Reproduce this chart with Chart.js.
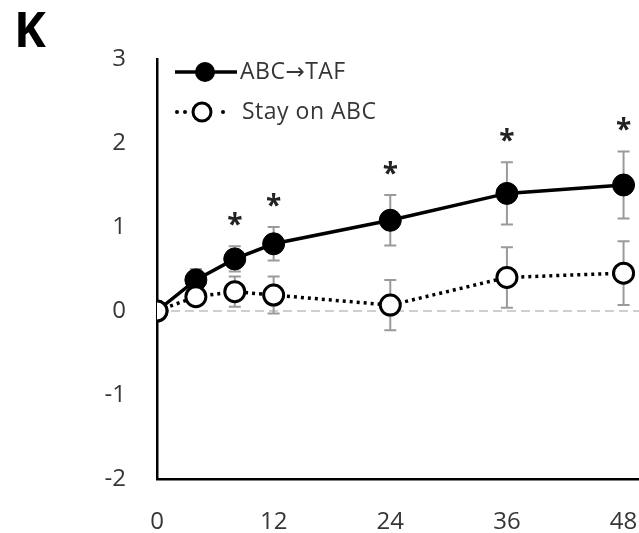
<!DOCTYPE html>
<html>
<head>
<meta charset="utf-8">
<script src="https://cdn.jsdelivr.net/npm/chart.js@4.4.0/dist/chart.umd.min.js"></script>
<style>
    html, body { margin: 0; padding: 0; background: #fff; overflow: hidden; }
    #chartCanvas { display: block; }
</style>
</head>
<body>
<!-- wider than the window so the x axis runs off the right edge -->
<canvas id="chartCanvas" width="680" height="533"></canvas>
<script>
// Change from baseline by week
const weeks = [0, 4, 8, 12, 24, 36, 48];
const switchMean = [0, 0.37, 0.62, 0.80, 1.08, 1.40, 1.50];
const switchErr = [0, 0.13, 0.15, 0.20, 0.30, 0.37, 0.40];
const stayMean = [0, 0.17, 0.23, 0.19, 0.07, 0.40, 0.45];
const stayErr = [0, 0.10, 0.18, 0.22, 0.30, 0.36, 0.38];
const significant = [false, false, true, true, true, true, true];
const xTicks = [0, 12, 24, 36, 48];
const yTicks = [-2, -1, 0, 1, 2, 3];
const seriesNames = ['ABC\u2192TAF', 'Stay on ABC'];

const FONT = '"Open Sans", "DejaVu Sans", sans-serif';
const TEXT = '#363636';

// zero reference line + error bars under the markers
const underlay = {
    id: 'underlay',
    beforeDatasetsDraw(chart) {
        const ctx = chart.ctx;
        const x = chart.scales.x, y = chart.scales.y;
        const area = chart.chartArea;

        ctx.save();
        ctx.strokeStyle = '#cfcfcf';
        ctx.lineWidth = 2;
        ctx.setLineDash([9, 5]);
        ctx.beginPath();
        ctx.moveTo(area.left, y.getPixelForValue(0));
        ctx.lineTo(area.right, y.getPixelForValue(0));
        ctx.stroke();
        ctx.setLineDash([]);

        ctx.strokeStyle = '#9a9a9a';
        ctx.lineWidth = 2;
        const bars = [[switchMean, switchErr], [stayMean, stayErr]];
        bars.forEach(([mean, err]) => {
            weeks.forEach((w, i) => {
                if (!err[i]) return;
                const px = x.getPixelForValue(w);
                const top = y.getPixelForValue(mean[i] + err[i]);
                const bot = y.getPixelForValue(mean[i] - err[i]);
                ctx.beginPath();
                ctx.moveTo(px, top); ctx.lineTo(px, bot);
                ctx.moveTo(px - 6, top); ctx.lineTo(px + 6, top);
                ctx.moveTo(px - 6, bot); ctx.lineTo(px + 6, bot);
                ctx.stroke();
            });
        });
        ctx.restore();
    }
};

// asterisks, legend and panel letter
const overlay = {
    id: 'overlay',
    afterDraw(chart) {
        const ctx = chart.ctx;
        const x = chart.scales.x, y = chart.scales.y;
        ctx.save();

        ctx.fillStyle = '#222';
        ctx.font = 'bold 28px ' + FONT;
        ctx.textAlign = 'center';
        ctx.textBaseline = 'alphabetic';
        weeks.forEach((w, i) => {
            if (!significant[i]) return;
            const top = y.getPixelForValue(switchMean[i] + switchErr[i]);
            ctx.fillText('*', x.getPixelForValue(w), top - 12);
        });

        // legend
        const lx = 175, rows = [72, 112];
        ctx.strokeStyle = '#000';
        ctx.lineWidth = 3.5;
        ctx.beginPath();
        ctx.moveTo(lx, rows[0]); ctx.lineTo(lx + 62, rows[0]);
        ctx.stroke();
        ctx.fillStyle = '#000';
        ctx.beginPath();
        ctx.arc(lx + 30, rows[0], 10, 0, Math.PI * 2);
        ctx.fill();

        [lx + 2, lx + 10, lx + 48].forEach(dx => {
            ctx.beginPath();
            ctx.arc(dx, rows[1], 2, 0, Math.PI * 2);
            ctx.fill();
        });
        ctx.fillStyle = '#fff';
        ctx.lineWidth = 3;
        ctx.beginPath();
        ctx.arc(lx + 27, rows[1], 9, 0, Math.PI * 2);
        ctx.fill();
        ctx.stroke();

        ctx.fillStyle = TEXT;
        ctx.font = '23px ' + FONT;
        ctx.letterSpacing = '0.5px';
        ctx.textAlign = 'left';
        ctx.textBaseline = 'middle';
        ctx.fillText(seriesNames[0], 240, rows[0]);
        ctx.fillText(seriesNames[1], 242, rows[1]);
        ctx.letterSpacing = '0px';

        ctx.fillStyle = '#000';
        ctx.font = 'bold 48px ' + FONT;
        ctx.textBaseline = 'alphabetic';
        ctx.fillText('K', 14, 47);
        ctx.restore();
    }
};

const ctxEl = document.getElementById('chartCanvas');
new Chart(ctxEl, {
    type: 'line',
    data: {
        datasets: [
            {
                label: seriesNames[0],
                data: weeks.map((w, i) => ({ x: w, y: switchMean[i] })),
                borderColor: '#000',
                borderWidth: 3.5,
                pointRadius: 11,
                pointBackgroundColor: '#000',
                pointBorderColor: '#000',
                pointBorderWidth: 1,
                order: 1
            },
            {
                label: seriesNames[1],
                data: weeks.map((w, i) => ({ x: w, y: stayMean[i] })),
                borderColor: '#000',
                borderWidth: 3.5,
                borderDash: [3, 4],
                pointRadius: 10,
                pointBackgroundColor: '#fff',
                pointBorderColor: '#000',
                pointBorderWidth: 3,
                order: 0
            }
        ]
    },
    options: {
        responsive: false,
        animation: false,
        devicePixelRatio: 1,
        layout: { padding: { top: 59, right: 37, left: 0, bottom: 0 } },
        plugins: { legend: { display: false }, tooltip: { enabled: false } },
        scales: {
            x: {
                type: 'linear',
                min: 0,
                max: 50,
                afterBuildTicks: s => { s.ticks = xTicks.map(v => ({ value: v })); },
                afterFit: s => { s.height = 54; },
                grid: { display: false },
                border: { display: true, color: '#000', width: 2.5 },
                ticks: { color: TEXT, font: { family: FONT, size: 24 }, padding: 21, maxRotation: 0 }
            },
            y: {
                min: -2,
                max: 3,
                afterBuildTicks: s => { s.ticks = yTicks.map(v => ({ value: v })); },
                afterFit: s => { s.width = 157; },
                grid: { display: false },
                border: { display: true, color: '#000', width: 2.5 },
                ticks: { color: TEXT, font: { family: FONT, size: 24 }, padding: 23 }
            }
        }
    },
    plugins: [underlay, overlay]
});
</script>
</body>
</html>
